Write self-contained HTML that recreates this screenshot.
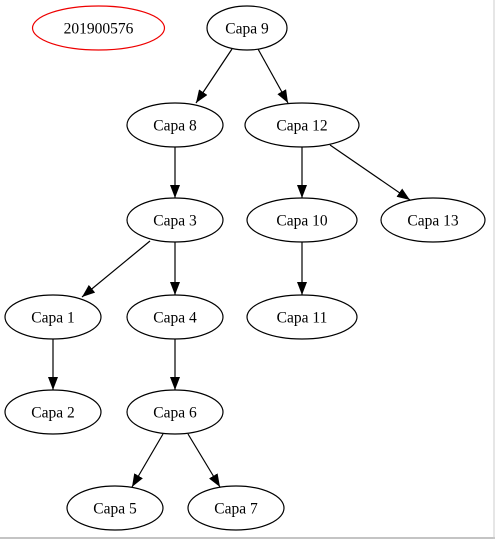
<!DOCTYPE html>
<html><head><meta charset="utf-8"><style>
html,body{margin:0;padding:0;background:#fff;}
svg{display:block;}
text{font-family:"Liberation Serif",serif;font-size:15.5px;text-anchor:middle;dominant-baseline:central;fill:#000;}
ellipse{fill:none;stroke:#000;stroke-width:1.2;}
line{stroke:#000;stroke-width:1.2;}
</style></head><body>
<svg width="495" height="539" viewBox="0 0 495 539">
<defs><marker id="a" markerWidth="13" markerHeight="10" refX="13" refY="5" orient="auto" markerUnits="userSpaceOnUse"><path d="M0,0 L13,5 L0,10 z" fill="#000"/></marker></defs>
<ellipse cx="98.5" cy="28" rx="66" ry="22" style="stroke:#e00"/><text x="98.5" y="29">201900576</text>
<ellipse cx="247" cy="28" rx="40" ry="22"/><text x="247" y="29">Capa 9</text>
<ellipse cx="175" cy="125" rx="48" ry="22"/><text x="175" y="126">Capa 8</text>
<ellipse cx="302" cy="125" rx="57" ry="22"/><text x="302" y="126">Capa 12</text>
<ellipse cx="175" cy="220" rx="48" ry="22"/><text x="175" y="221">Capa 3</text>
<ellipse cx="302" cy="220" rx="55" ry="22"/><text x="302" y="221">Capa 10</text>
<ellipse cx="433" cy="220" rx="52" ry="22"/><text x="433" y="221">Capa 13</text>
<ellipse cx="53" cy="317" rx="48" ry="22"/><text x="53" y="318">Capa 1</text>
<ellipse cx="175" cy="317" rx="48" ry="22"/><text x="175" y="318">Capa 4</text>
<ellipse cx="302" cy="317" rx="55" ry="22"/><text x="302" y="318">Capa 11</text>
<ellipse cx="53" cy="412" rx="48" ry="22"/><text x="53" y="413">Capa 2</text>
<ellipse cx="175" cy="412" rx="48" ry="22"/><text x="175" y="413">Capa 6</text>
<ellipse cx="115" cy="508" rx="48" ry="22"/><text x="115" y="509">Capa 5</text>
<ellipse cx="236" cy="508" rx="48" ry="22"/><text x="236" y="509">Capa 7</text>
<g marker-end="url(#a)">
<line x1="232" y1="49" x2="196" y2="103"/>
<line x1="258" y1="49" x2="288" y2="103"/>
<line x1="175" y1="147" x2="175" y2="198"/>
<line x1="302" y1="147" x2="302" y2="198"/>
<line x1="330" y1="145" x2="410" y2="200"/>
<line x1="150" y1="241" x2="82" y2="297"/>
<line x1="175" y1="242" x2="175" y2="295"/>
<line x1="302" y1="242" x2="302" y2="295"/>
<line x1="53" y1="339" x2="53" y2="390"/>
<line x1="175" y1="339" x2="175" y2="390"/>
<line x1="163" y1="434" x2="132" y2="487"/>
<line x1="188" y1="434" x2="220" y2="487"/>
</g>
<line x1="0" y1="538" x2="495" y2="538" style="stroke:#888;stroke-width:1"/>
<line x1="494" y1="0" x2="494" y2="539" style="stroke:#ccc;stroke-width:1"/>
</svg>
</body></html>
